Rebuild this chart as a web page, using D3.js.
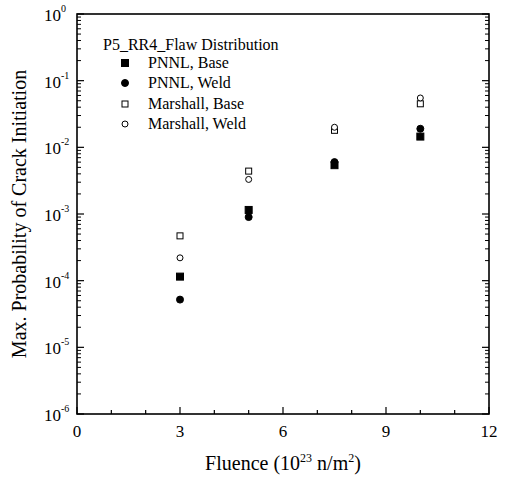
<!DOCTYPE html>
<html><head><meta charset="utf-8">
<script src="https://cdn.jsdelivr.net/npm/d3@7"></script>
<style>body{margin:0;background:#fff}svg{font-family:"Liberation Serif","Times New Roman",serif}</style>
</head><body>
<svg id="c" width="506" height="480"></svg>
<script>
const fluence = [3, 5, 7.5, 10];
const pnnlBase = [1.15e-4, 1.15e-3, 5.4e-3, 1.45e-2];
const pnnlWeld = [5.2e-5, 9.0e-4, 6.0e-3, 1.9e-2];
const marshallBase = [4.7e-4, 4.4e-3, 1.8e-2, 4.5e-2];
const marshallWeld = [2.2e-4, 3.3e-3, 2.0e-2, 5.5e-2];
const seriesNames = ["PNNL, Base", "PNNL, Weld", "Marshall, Base", "Marshall, Weld"];
const xTicks = [0, 3, 6, 9, 12];
const yExps = [0, -1, -2, -3, -4, -5, -6];
const legendTitle = "P5_RR4_Flaw Distribution";

const series = [
  {name: seriesNames[0], vals: pnnlBase, shape: "square", fill: true},
  {name: seriesNames[1], vals: pnnlWeld, shape: "circle", fill: true},
  {name: seriesNames[2], vals: marshallBase, shape: "square", fill: false},
  {name: seriesNames[3], vals: marshallWeld, shape: "circle", fill: false}
];

const svg = d3.select("#c");
const L = 77, R = 489, T = 14, B = 414;
const x = d3.scaleLinear().domain([0, 12]).range([L, R]);
const y = d3.scaleLog().domain([1e-6, 1]).range([B, T]);

// frame
svg.append("rect").attr("x", L).attr("y", T).attr("width", R - L).attr("height", B - T)
  .attr("fill", "none").attr("stroke", "#000").attr("stroke-width", 1.6);

// x ticks (inward) bottom
const xMinor = d3.range(0, 13, 1);
xMinor.forEach(v => {
  const major = v % 3 === 0;
  svg.append("line").attr("x1", x(v)).attr("x2", x(v)).attr("y1", B).attr("y2", B - (major ? 7 : 4))
    .attr("stroke", "#000").attr("stroke-width", 1.2);
});
xTicks.forEach(v => {
  svg.append("text").attr("x", x(v)).attr("y", 437).attr("text-anchor", "middle")
    .attr("font-size", 17).text(v);
});

// y ticks left & right
yExps.forEach(e => {
  const v = Math.pow(10, e);
  [[L, 1], [R, -1]].forEach(([px, d]) => {
    svg.append("line").attr("x1", px).attr("x2", px + d * 7).attr("y1", y(v)).attr("y2", y(v))
      .attr("stroke", "#000").attr("stroke-width", 1.2);
  });
  if (e > -6) {
    for (let k = 2; k <= 9; k++) {
      const mv = v / 10 * k;
      [[L, 1], [R, -1]].forEach(([px, d]) => {
        svg.append("line").attr("x1", px).attr("x2", px + d * 4).attr("y1", y(mv)).attr("y2", y(mv))
          .attr("stroke", "#000").attr("stroke-width", 1);
      });
    }
  }
  svg.append("text").attr("x", 61).attr("y", y(v) + 7).attr("text-anchor", "end").attr("font-size", 17).text("10");
  svg.append("text").attr("x", 61).attr("y", y(v) - 2).attr("font-size", 10).text(e === 0 ? "0" : "-" + Math.abs(e));
});

// axis titles
const xt = svg.append("text").attr("x", 283).attr("y", 470).attr("text-anchor", "middle").attr("font-size", 20);
xt.append("tspan").text("Fluence (10");
xt.append("tspan").attr("font-size", 12).attr("dy", -8).text("23");
xt.append("tspan").attr("dy", 8).text(" n/m");
xt.append("tspan").attr("font-size", 12).attr("dy", -8).text("2");
xt.append("tspan").attr("dy", 8).text(")");

svg.append("text").attr("transform", "translate(26,214) rotate(-90)")
  .attr("text-anchor", "middle").attr("font-size", 20).text("Max. Probability of Crack Initiation");

function drawMarker(g, cx, cy, s) {
  const size = s.fill ? 7 : 6;
  if (s.shape === "square") {
    g.append("rect").attr("x", cx - size / 2).attr("y", cy - size / 2).attr("width", size).attr("height", size)
      .attr("fill", s.fill ? "#000" : "#fff").attr("stroke", "#000").attr("stroke-width", 1);
  } else {
    g.append("circle").attr("cx", cx).attr("cy", cy).attr("r", size / 2)
      .attr("fill", s.fill ? "#000" : "#fff").attr("stroke", "#000").attr("stroke-width", 1);
  }
}

const pts = svg.append("g");
series.forEach(s => {
  s.vals.forEach((v, i) => drawMarker(pts, x(fluence[i]), y(v), s));
});

// legend
svg.append("text").attr("x", 103).attr("y", 50).attr("font-size", 16).text(legendTitle);
const ly = [63, 83, 104, 124];
series.forEach((s, i) => {
  drawMarker(svg, 125, ly[i], s);
  svg.append("text").attr("x", 148).attr("y", ly[i] + 5).attr("font-size", 16).text(s.name);
});
</script>
</body></html>
